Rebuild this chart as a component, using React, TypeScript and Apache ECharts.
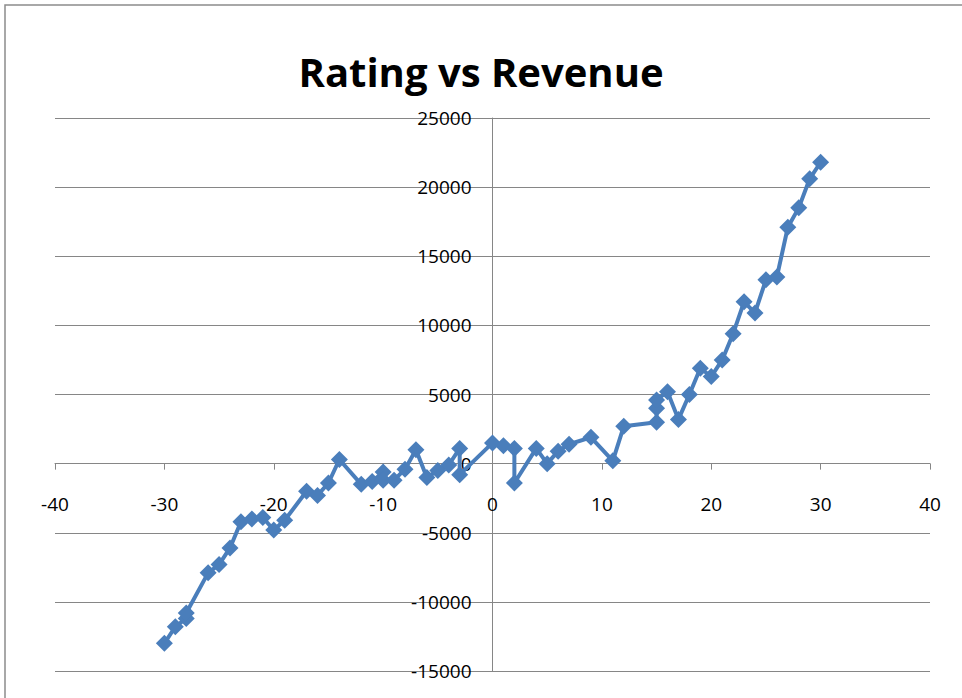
import React, { useEffect, useRef } from "react";
import * as echarts from "echarts";

const ratings = [
  -30, -29, -28, -28, -26, -25, -24, -23, -22, -21, -20, -19, -17, -16, -15, -14,
  -12, -11, -10, -10, -9, -8, -7, -6, -5, -4, -3, -3, 0, 1, 2, 2, 4, 5, 6, 7, 9,
  11, 12, 15, 15, 15, 16, 17, 18, 19, 20, 21, 22, 23, 24, 25, 26, 27, 28, 29, 30,
];
const revenue = [
  -13000, -11800, -11200, -10800, -7900, -7300, -6100, -4200, -4000, -3900, -4800,
  -4100, -2000, -2300, -1400, 300, -1500, -1300, -600, -1200, -1200, -400, 1000,
  -1000, -500, -100, 1100, -800, 1500, 1300, 1100, -1400, 1100, 0, 900, 1400, 1900,
  200, 2700, 3000, 4000, 4600, 5200, 3200, 5000, 6900, 6300, 7500, 9400, 11700,
  10900, 13300, 13500, 17100, 18500, 20600, 21800,
];
const titleText = "Rating vs Revenue";
const xRange = [-40, 40, 10];
const yRange = [-15000, 25000, 5000];

export default function App() {
  const ref = useRef<HTMLDivElement>(null);
  useEffect(() => {
    if (!ref.current) return;
    const chart = echarts.init(ref.current, null, { renderer: "svg" });
    const font = "'Open Sans', 'Liberation Sans', sans-serif";
    const W = 962, H = 698;
    const gl = 55, gr = 32, gt = 118, gb = 27;
    const gw = W - gl - gr, gh = H - gt - gb;
    // offsets that place the axes where the other axis is zero (Excel-style crossing)
    const zeroY = gt + gh * (yRange[1] / (yRange[1] - yRange[0]));
    const zeroX = gl + gw * ((0 - xRange[0]) / (xRange[1] - xRange[0]));
    const xOffset = -((H - gb) - zeroY);
    const yOffset = -(zeroX - gl);
    chart.setOption({
      animation: false,
      backgroundColor: "#ffffff",
      title: {
        text: titleText,
        left: "center",
        top: 46,
        textStyle: { fontFamily: font, fontWeight: "bold", fontSize: 40, color: "#000" },
      },
      graphic: [
        {
          type: "rect",
          shape: { x: 5, y: 5, width: 1000, height: 1000 },
          style: { fill: "none", stroke: "#8c8c8c", lineWidth: 1.5 },
          silent: true,
        },
      ],
      grid: {
        left: gl, right: gr, top: gt, bottom: gb,
        containLabel: false,
        outerBoundsMode: "none",
      },
      xAxis: {
        type: "value",
        position: "bottom",
        offset: xOffset,
        min: xRange[0],
        max: xRange[1],
        interval: xRange[2],
        axisLine: { show: true, onZero: false, lineStyle: { color: "#868686", width: 1 } },
        axisTick: { show: true, inside: false, length: 6, lineStyle: { color: "#868686" } },
        axisLabel: { margin: 31, fontFamily: font, fontSize: 19, color: "#000" },
        splitLine: { show: false },
      },
      yAxis: {
        type: "value",
        position: "left",
        offset: yOffset,
        min: yRange[0],
        max: yRange[1],
        interval: yRange[2],
        axisLine: { show: true, onZero: false, lineStyle: { color: "#868686", width: 1 } },
        axisTick: { show: true, inside: false, length: 6, lineStyle: { color: "#868686" } },
        axisLabel: {
          margin: 21,
          fontFamily: font,
          fontSize: 19,
          color: "#000",
          formatter: (v: number) => String(v),
        },
        splitLine: { show: true, lineStyle: { color: "#868686", width: 1 } },
      },
      series: [
        {
          type: "line",
          data: ratings.map((r, i) => [r, revenue[i]]),
          symbol: "diamond",
          symbolSize: 17,
          lineStyle: { color: "#4a7ebb", width: 4 },
          itemStyle: { color: "#4a7ebb" },
          z: 3,
        },
      ],
    });
    return () => chart.dispose();
  }, []);
  return (
    <div
      ref={ref}
      style={{ position: "absolute", left: 0, top: 0, width: 962, height: 698 }}
    />
  );
}
